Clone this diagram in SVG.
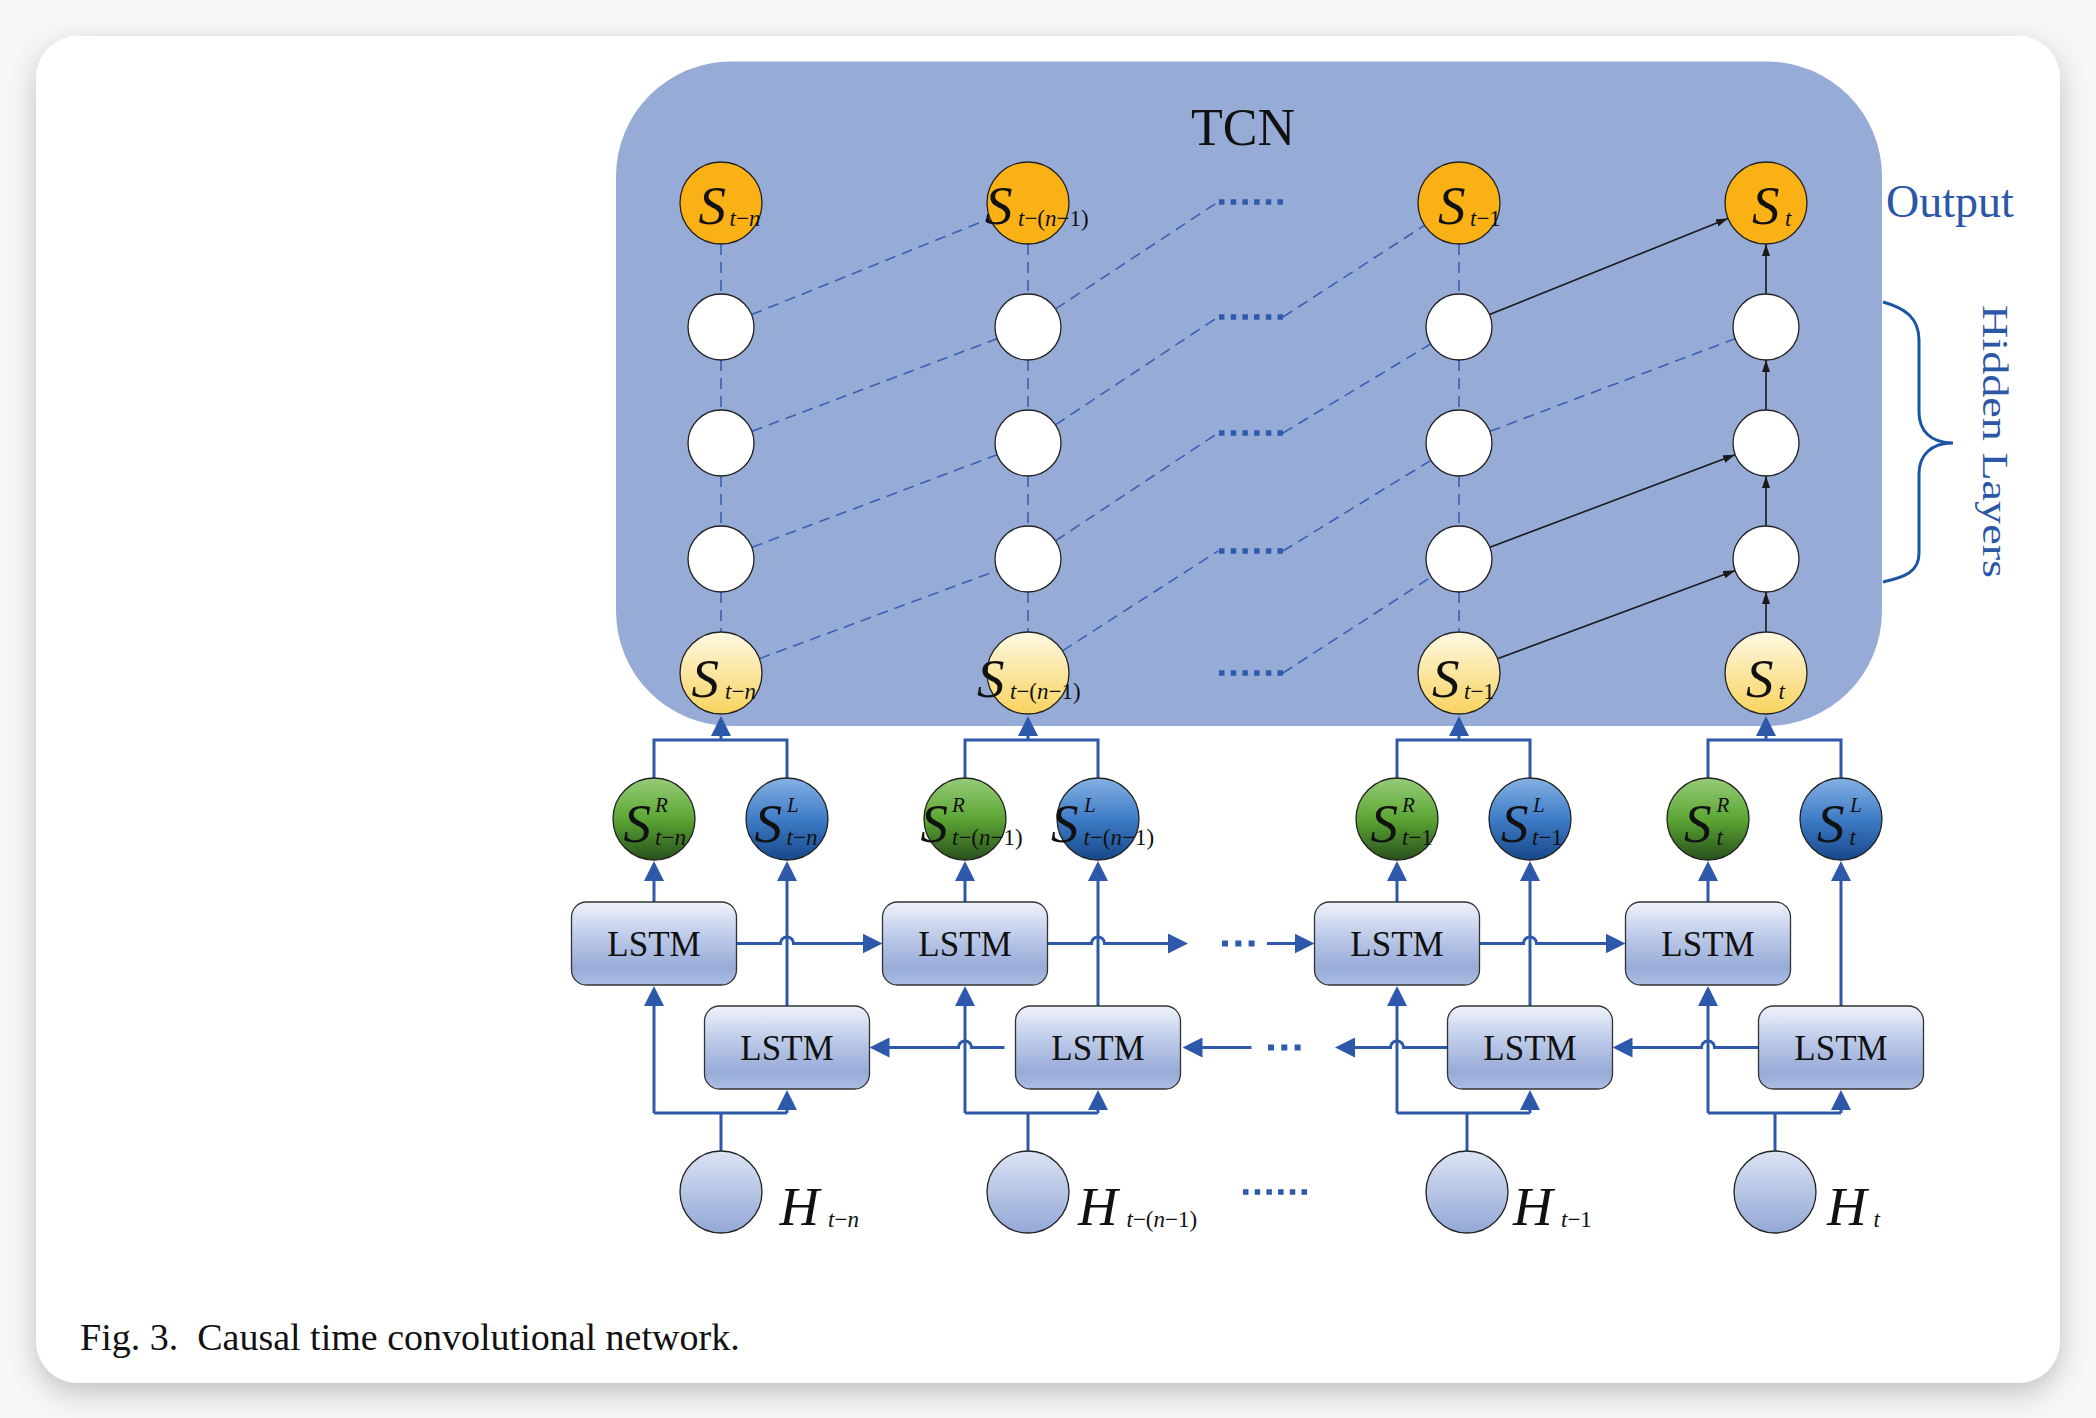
<svg xmlns="http://www.w3.org/2000/svg" width="2096" height="1418" viewBox="0 0 2096 1418">
<defs>
<style>
.t{font-family:"Liberation Serif","Times New Roman",serif;fill:#111}
.big{font-size:55px;font-style:italic}
.sub{font-size:23px;font-style:normal}
.sup{font-size:21px;font-style:italic}
.i{font-style:italic}
.lstm{font-size:35px;text-anchor:middle}
.nd{stroke:#222;stroke-width:1.3}
.box{fill:url(#gBox);stroke:#333;stroke-width:1.3}
.dash{fill:none;stroke:#3a60b4;stroke-width:1.6;stroke-dasharray:11 7}
.blk{fill:none;stroke:#1a1a1a;stroke-width:1.6;marker-end:url(#ak)}
.bl{fill:none;stroke:#2e59ab;stroke-width:3}
.ba{marker-end:url(#ab)}
.dots{fill:none;stroke:#2e5aab;stroke-width:5.5;stroke-dasharray:5.5 6.2}
.dots3{fill:none;stroke:#2e5aab;stroke-width:6;stroke-dasharray:6 7.3}
.blue{fill:#2c56a6}
</style>
<filter id="sh" x="-5%" y="-5%" width="110%" height="115%">
<feDropShadow dx="0" dy="10" stdDeviation="14" flood-color="#000" flood-opacity="0.22"/>
</filter>
<linearGradient id="gBox" x1="0" y1="0" x2="0" y2="1">
<stop offset="0" stop-color="#eef2fa"/><stop offset="0.45" stop-color="#b9c7e7"/><stop offset="0.8" stop-color="#97abd7"/><stop offset="1" stop-color="#adbee3"/>
</linearGradient>
<linearGradient id="gG" x1="0" y1="0" x2="0" y2="1">
<stop offset="0" stop-color="#96cc78"/><stop offset="0.5" stop-color="#5ca634"/><stop offset="1" stop-color="#28501c"/>
</linearGradient>
<linearGradient id="gB" x1="0" y1="0" x2="0" y2="1">
<stop offset="0" stop-color="#84b1e3"/><stop offset="0.5" stop-color="#3f7cc7"/><stop offset="1" stop-color="#164889"/>
</linearGradient>
<linearGradient id="gY" x1="0" y1="0" x2="0" y2="1">
<stop offset="0" stop-color="#fef9e4"/><stop offset="1" stop-color="#f8d35e"/>
</linearGradient>
<linearGradient id="gH" x1="0" y1="0" x2="0" y2="1">
<stop offset="0" stop-color="#dbe3f4"/><stop offset="1" stop-color="#93a8d6"/>
</linearGradient>
<marker id="ab" viewBox="0 0 20 20" refX="1" refY="10" markerWidth="20" markerHeight="20" markerUnits="userSpaceOnUse" orient="auto"><path d="M0,0 L20,10 L0,20 Z" fill="#2e59ab"/></marker>
<marker id="ak" viewBox="0 0 12 8" refX="12" refY="4" markerWidth="12" markerHeight="8" markerUnits="userSpaceOnUse" orient="auto"><path d="M0,0 L12,4 L0,8 Z" fill="#1a1a1a"/></marker>
</defs>

<rect x="0" y="0" width="2096" height="1418" fill="#f7f7f7"/>
<rect id="card" x="36" y="36" width="2024" height="1347" rx="42" fill="#fff" filter="url(#sh)"/>

<g id="tcn">
<rect x="616" y="61.5" width="1266" height="664.5" rx="115" fill="#97abd7"/>
<text class="t" x="1243" y="145" font-size="52" text-anchor="middle">TCN</text>
</g>

<g id="labels">
<text class="t blue" x="1886" y="217" font-size="46">Output</text>
<path d="M1883,302 C1905,308 1919,318 1919,340 L1919,412 C1919,430 1930,443 1953,443 C1930,443 1919,456 1919,474 L1919,553 C1919,572 1905,577 1883,582" fill="none" stroke="#1a55a5" stroke-width="3"/>
<text class="t blue" transform="translate(1983,305) rotate(90)" font-size="36" textLength="273" lengthAdjust="spacingAndGlyphs">Hidden Layers</text>
<text class="t" x="80" y="1350" font-size="38" xml:space="preserve">Fig. 3.  Causal time convolutional network.</text>
</g>

<g id="connectors">
<path class="dash" d="M721,244V294M721,360V410M721,476V526M721,592V632M1028,244V294M1028,360V410M1028,476V526M1028,592V632M1459,244V294M1459,360V410M1459,476V526M1459,592V632"/>
<path class="dash" d="M759.4,658.7L997.1,570.5M751.9,547.3L997.1,454.7M751.9,431.3L997.1,338.7M751.6,314.6L990,218.4"/>
<path class="dash" d="M1055.6,308.9L1218,202M1055.5,424.8L1218,317M1055.5,540.8L1218,433M1062.5,650.8L1218,551"/>
<path class="dash" d="M1283,317L1424.6,225.3M1283,433L1430.7,344M1283,551L1430.9,460.3M1283,673L1431.3,576.9"/>
<path class="dash" d="M1489.9,431.3L1735.1,338.7"/>
<path class="dots" d="M1219,202H1284M1219,317H1284M1219,433H1284M1219,551H1284M1219,673H1284"/>
<path class="blk" d="M1497.4,658.7L1735.1,570.5"/>
<path class="blk" d="M1489.9,547.3L1735.1,454.7"/>
<path class="blk" d="M1489.6,314.6L1728,218.4"/>
<path class="blk" d="M1766,632V592"/>
<path class="blk" d="M1766,526V476"/>
<path class="blk" d="M1766,410V360"/>
<path class="blk" d="M1766,294V244"/>
<path class="bl" d="M654,778V740H787V778M965,778V740H1098V778M1397,778V740H1530V778M1708,778V740H1841V778"/>
<path class="bl ba" d="M721,740V735"/>
<path class="bl ba" d="M1028,740V735"/>
<path class="bl ba" d="M1459,740V735"/>
<path class="bl ba" d="M1766,740V735"/>
<path class="bl ba" d="M654,902V880"/>
<path class="bl ba" d="M965,902V880"/>
<path class="bl ba" d="M1397,902V880"/>
<path class="bl ba" d="M1708,902V880"/>
<path class="bl ba" d="M787,1006V880"/>
<path class="bl ba" d="M1098,1006V880"/>
<path class="bl ba" d="M1530,1006V880"/>
<path class="bl ba" d="M1841,1006V880"/>
<path class="bl" d="M721,1151V1113M654,1113H787M1028,1151V1113M965,1113H1098M1467,1151V1113M1397,1113H1530M1775,1151V1113M1708,1113H1841"/>
<path class="bl ba" d="M654,1113V1005"/>
<path class="bl ba" d="M965,1113V1005"/>
<path class="bl ba" d="M1397,1113V1005"/>
<path class="bl ba" d="M1708,1113V1005"/>
<path class="bl ba" d="M787,1113V1109"/>
<path class="bl ba" d="M1098,1113V1109"/>
<path class="bl ba" d="M1530,1113V1109"/>
<path class="bl ba" d="M1841,1113V1109"/>
<path class="bl ba" d="M736.5,943.5H780.5A6.5,6.5 0 0 1 793.5,943.5H863.5"/>
<path class="bl ba" d="M1047.5,943.5H1091.5A6.5,6.5 0 0 1 1104.5,943.5H1169"/>
<path class="dots3" d="M1222,943.5H1256"/>
<path class="bl ba" d="M1267,943.5H1295.5"/>
<path class="bl ba" d="M1479.5,943.5H1523.5A6.5,6.5 0 0 1 1536.5,943.5H1606.5"/>
<path class="bl ba" d="M1004.5,1047.5H971.5A6.5,6.5 0 0 0 958.5,1047.5H888.5"/>
<path class="bl ba" d="M1447.5,1047.5H1403.5A6.5,6.5 0 0 0 1390.5,1047.5H1354"/>
<path class="dots3" d="M1268,1047.5H1302"/>
<path class="bl ba" d="M1251.5,1047.5H1201.5"/>
<path class="bl ba" d="M1758.5,1047.5H1714.5A6.5,6.5 0 0 0 1701.5,1047.5H1631.5"/>
<path class="dots" d="M1243,1192H1308"/>
</g>

<g id="out1"><circle cx="721" cy="203" r="41" class="nd" fill="#f9b116"/><text class="t"><tspan class="big" x="698.5" y="224">S</tspan><tspan class="sub" x="729.5" y="226"><tspan class="i">t</tspan>−<tspan class="i">n</tspan></tspan></text></g>
<g id="out2"><circle cx="1028" cy="203" r="41" class="nd" fill="#f9b116"/><text class="t"><tspan class="big" x="985" y="224">S</tspan><tspan class="sub" x="1018" y="226"><tspan class="i">t</tspan>−(<tspan class="i">n</tspan>−1)</tspan></text></g>
<g id="out3"><circle cx="1459" cy="203" r="41" class="nd" fill="#f9b116"/><text class="t"><tspan class="big" x="1438" y="224">S</tspan><tspan class="sub" x="1470" y="226"><tspan class="i">t</tspan>−1</tspan></text></g>
<g id="out4"><circle cx="1766" cy="203" r="41" class="nd" fill="#f9b116"/><text class="t"><tspan class="big" x="1752" y="224">S</tspan><tspan class="sub" x="1785" y="226"><tspan class="i">t</tspan></tspan></text></g>

<g id="h1a"><circle cx="721" cy="327" r="33" class="nd" fill="#fff"/></g>
<g id="h1b"><circle cx="721" cy="443" r="33" class="nd" fill="#fff"/></g>
<g id="h1c"><circle cx="721" cy="559" r="33" class="nd" fill="#fff"/></g>
<g id="h2a"><circle cx="1028" cy="327" r="33" class="nd" fill="#fff"/></g>
<g id="h2b"><circle cx="1028" cy="443" r="33" class="nd" fill="#fff"/></g>
<g id="h2c"><circle cx="1028" cy="559" r="33" class="nd" fill="#fff"/></g>
<g id="h3a"><circle cx="1459" cy="327" r="33" class="nd" fill="#fff"/></g>
<g id="h3b"><circle cx="1459" cy="443" r="33" class="nd" fill="#fff"/></g>
<g id="h3c"><circle cx="1459" cy="559" r="33" class="nd" fill="#fff"/></g>
<g id="h4a"><circle cx="1766" cy="327" r="33" class="nd" fill="#fff"/></g>
<g id="h4b"><circle cx="1766" cy="443" r="33" class="nd" fill="#fff"/></g>
<g id="h4c"><circle cx="1766" cy="559" r="33" class="nd" fill="#fff"/></g>

<g id="in1"><circle cx="721" cy="673" r="41" class="nd" fill="url(#gY)"/><text class="t"><tspan class="big" x="691.5" y="697">S</tspan><tspan class="sub" x="725" y="699"><tspan class="i">t</tspan>−<tspan class="i">n</tspan></tspan></text></g>
<g id="in2"><circle cx="1028" cy="673" r="41" class="nd" fill="url(#gY)"/><text class="t"><tspan class="big" x="977" y="697">S</tspan><tspan class="sub" x="1010" y="699"><tspan class="i">t</tspan>−(<tspan class="i">n</tspan>−1)</tspan></text></g>
<g id="in3"><circle cx="1459" cy="673" r="41" class="nd" fill="url(#gY)"/><text class="t"><tspan class="big" x="1432" y="697">S</tspan><tspan class="sub" x="1464" y="699"><tspan class="i">t</tspan>−1</tspan></text></g>
<g id="in4"><circle cx="1766" cy="673" r="41" class="nd" fill="url(#gY)"/><text class="t"><tspan class="big" x="1746" y="697">S</tspan><tspan class="sub" x="1778.5" y="699"><tspan class="i">t</tspan></tspan></text></g>

<g id="sr1"><circle cx="654" cy="819" r="41" class="nd" fill="url(#gG)"/><text class="t"><tspan class="big" x="623.5" y="842">S</tspan><tspan class="sup" x="655" y="812">R</tspan><tspan class="sub" x="655" y="845"><tspan class="i">t</tspan>−<tspan class="i">n</tspan></tspan></text></g>
<g id="sl1"><circle cx="787" cy="819" r="41" class="nd" fill="url(#gB)"/><text class="t"><tspan class="big" x="754.5" y="842">S</tspan><tspan class="sup" x="787" y="812">L</tspan><tspan class="sub" x="786.5" y="845"><tspan class="i">t</tspan>−<tspan class="i">n</tspan></tspan></text></g>
<g id="sr2"><circle cx="965" cy="819" r="41" class="nd" fill="url(#gG)"/><text class="t"><tspan class="big" x="920.5" y="842">S</tspan><tspan class="sup" x="952" y="812">R</tspan><tspan class="sub" x="952" y="845"><tspan class="i">t</tspan>−(<tspan class="i">n</tspan>−1)</tspan></text></g>
<g id="sl2"><circle cx="1098" cy="819" r="41" class="nd" fill="url(#gB)"/><text class="t"><tspan class="big" x="1051" y="842">S</tspan><tspan class="sup" x="1084" y="812">L</tspan><tspan class="sub" x="1083.5" y="845"><tspan class="i">t</tspan>−(<tspan class="i">n</tspan>−1)</tspan></text></g>
<g id="sr3"><circle cx="1397" cy="819" r="41" class="nd" fill="url(#gG)"/><text class="t"><tspan class="big" x="1370.5" y="842">S</tspan><tspan class="sup" x="1402" y="812">R</tspan><tspan class="sub" x="1402" y="845"><tspan class="i">t</tspan>−1</tspan></text></g>
<g id="sl3"><circle cx="1530" cy="819" r="41" class="nd" fill="url(#gB)"/><text class="t"><tspan class="big" x="1501" y="842">S</tspan><tspan class="sup" x="1533" y="812">L</tspan><tspan class="sub" x="1532" y="845"><tspan class="i">t</tspan>−1</tspan></text></g>
<g id="sr4"><circle cx="1708" cy="819" r="41" class="nd" fill="url(#gG)"/><text class="t"><tspan class="big" x="1684" y="842">S</tspan><tspan class="sup" x="1716.5" y="812">R</tspan><tspan class="sub" x="1716.5" y="845"><tspan class="i">t</tspan></tspan></text></g>
<g id="sl4"><circle cx="1841" cy="819" r="41" class="nd" fill="url(#gB)"/><text class="t"><tspan class="big" x="1817" y="842">S</tspan><tspan class="sup" x="1850" y="812">L</tspan><tspan class="sub" x="1849.5" y="845"><tspan class="i">t</tspan></tspan></text></g>

<g id="fw1"><rect x="571.5" y="902" width="165" height="83" rx="15" class="box"/><text class="t lstm" x="654" y="955.5">LSTM</text></g>
<g id="fw2"><rect x="882.5" y="902" width="165" height="83" rx="15" class="box"/><text class="t lstm" x="965" y="955.5">LSTM</text></g>
<g id="fw3"><rect x="1314.5" y="902" width="165" height="83" rx="15" class="box"/><text class="t lstm" x="1397" y="955.5">LSTM</text></g>
<g id="fw4"><rect x="1625.5" y="902" width="165" height="83" rx="15" class="box"/><text class="t lstm" x="1708" y="955.5">LSTM</text></g>
<g id="bw1"><rect x="704.5" y="1006" width="165" height="83" rx="15" class="box"/><text class="t lstm" x="787" y="1059.5">LSTM</text></g>
<g id="bw2"><rect x="1015.5" y="1006" width="165" height="83" rx="15" class="box"/><text class="t lstm" x="1098" y="1059.5">LSTM</text></g>
<g id="bw3"><rect x="1447.5" y="1006" width="165" height="83" rx="15" class="box"/><text class="t lstm" x="1530" y="1059.5">LSTM</text></g>
<g id="bw4"><rect x="1758.5" y="1006" width="165" height="83" rx="15" class="box"/><text class="t lstm" x="1841" y="1059.5">LSTM</text></g>

<g id="H1"><circle cx="721" cy="1192" r="41" class="nd" fill="url(#gH)"/><text class="t"><tspan class="big" x="779.5" y="1225">H</tspan><tspan class="sub" x="828" y="1227"><tspan class="i">t</tspan>−<tspan class="i">n</tspan></tspan></text></g>
<g id="H2"><circle cx="1028" cy="1192" r="41" class="nd" fill="url(#gH)"/><text class="t"><tspan class="big" x="1078" y="1225">H</tspan><tspan class="sub" x="1126.5" y="1227"><tspan class="i">t</tspan>−(<tspan class="i">n</tspan>−1)</tspan></text></g>
<g id="H3"><circle cx="1467" cy="1192" r="41" class="nd" fill="url(#gH)"/><text class="t"><tspan class="big" x="1513" y="1225">H</tspan><tspan class="sub" x="1561" y="1227"><tspan class="i">t</tspan>−1</tspan></text></g>
<g id="H4"><circle cx="1775" cy="1192" r="41" class="nd" fill="url(#gH)"/><text class="t"><tspan class="big" x="1827" y="1225">H</tspan><tspan class="sub" x="1873.5" y="1227"><tspan class="i">t</tspan></tspan></text></g>
</svg>
